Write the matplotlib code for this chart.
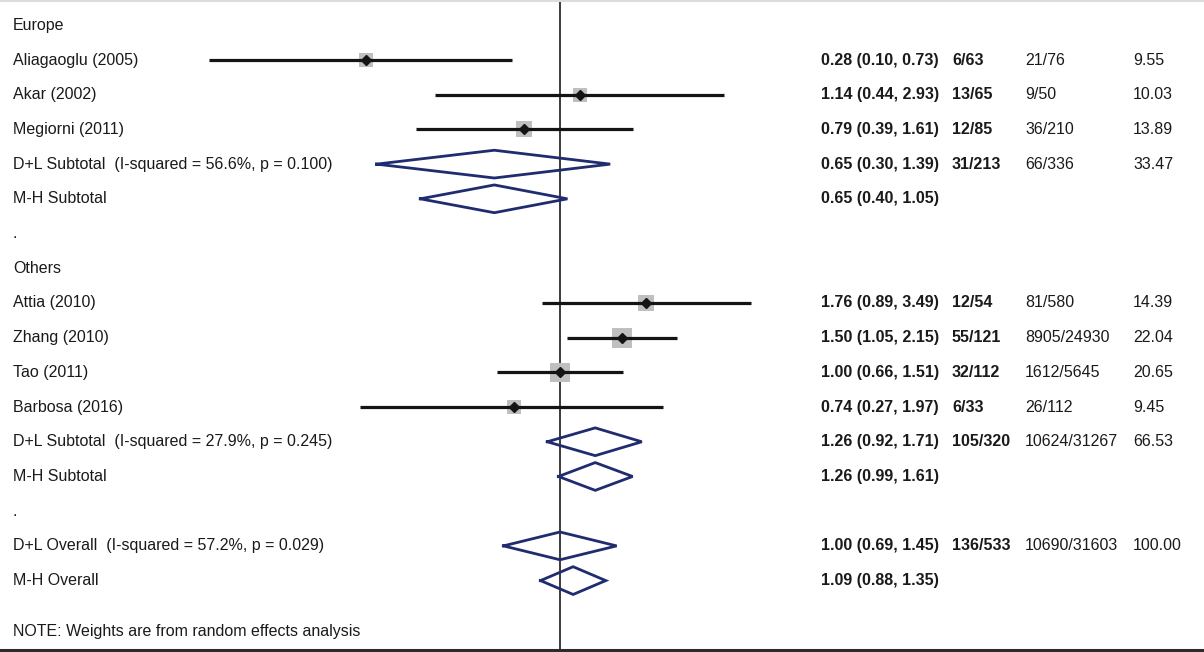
import numpy as np
import matplotlib.pyplot as plt
from matplotlib.transforms import blended_transform_factory

# ---- data ----
study_names = ["Aliagaoglu (2005)", "Akar (2002)", "Megiorni (2011)",
               "Attia (2010)", "Zhang (2010)", "Tao (2011)", "Barbosa (2016)"]
study_rows = [1, 2, 3, 8, 9, 10, 11]
study_es = [0.28, 1.14, 0.79, 1.76, 1.50, 1.00, 0.74]
study_lo = [0.10, 0.44, 0.39, 0.89, 1.05, 0.66, 0.27]
study_hi = [0.73, 2.93, 1.61, 3.49, 2.15, 1.51, 1.97]
study_case = ["6/63", "13/65", "12/85", "12/54", "55/121", "32/112", "6/33"]
study_ctrl = ["21/76", "9/50", "36/210", "81/580", "8905/24930", "1612/5645", "26/112"]
study_wt = [9.55, 10.03, 13.89, 14.39, 22.04, 20.65, 9.45]

pool_names = ["D+L Subtotal  (I-squared = 56.6%, p = 0.100)", "M-H Subtotal",
              "D+L Subtotal  (I-squared = 27.9%, p = 0.245)", "M-H Subtotal",
              "D+L Overall  (I-squared = 57.2%, p = 0.029)", "M-H Overall"]
pool_rows = [4, 5, 12, 13, 15, 16]
pool_es = [0.65, 0.65, 1.26, 1.26, 1.00, 1.09]
pool_lo = [0.30, 0.40, 0.92, 0.99, 0.69, 0.88]
pool_hi = [1.39, 1.05, 1.71, 1.61, 1.45, 1.35]
pool_case = ["31/213", "", "105/320", "", "136/533", ""]
pool_ctrl = ["66/336", "", "10624/31267", "", "10690/31603", ""]
pool_wt = ["33.47", "", "66.53", "", "100.00", ""]

headers = ["Europe", "Others"]
header_rows = [0, 7]
dot_rows = [6, 14]
note = "NOTE: Weights are from random effects analysis"

plt.rcParams['font.family'] = ['Liberation Sans', 'DejaVu Sans']
txt_col = "#1a1a1a"
navy = "#1f2c6f"
fs = 11.5

fig = plt.figure(figsize=(12.04, 6.52), dpi=100)
ax = fig.add_axes([0, 2 / 652, 1, 650 / 652])

# x: log scale, 351 px per decade, null line at px 560
lo_lim = 10 ** ((0 - 560) / 351)
hi_lim = 10 ** ((1204 - 560) / 351)
ax.set_xscale('log')
ax.set_xlim(lo_lim, hi_lim)
ax.set_ylim(18.0, -0.729)

# null line
ax.axvline(1, color="#2b2b2b", lw=1.3, zorder=1)

# studies
for r, es, lo, hi, w in zip(study_rows, study_es, study_lo, study_hi, study_wt):
    side = 4.3 * np.sqrt(w) * 0.72
    ax.scatter([es], [r], marker='s', s=side ** 2, color="#bfbfbf",
               edgecolors='none', zorder=2)
    ax.plot([lo, hi], [r, r], color="#141414", lw=2.3, solid_capstyle='butt', zorder=3)
    ax.plot([es], [r], marker='D', ms=5.5, color="#141414", zorder=4)

# pooled diamonds
h = 0.4
for r, es, lo, hi in zip(pool_rows, pool_es, pool_lo, pool_hi):
    ax.plot([lo, es, hi, es, lo], [r, r - h, r, r + h, r], color=navy, lw=2.0,
            solid_joinstyle='miter', zorder=3)

# text columns
tr = blended_transform_factory(ax.transAxes, ax.transData)
xl = 13 / 1204
x_es, x_case, x_ctrl, x_wt = 821 / 1204, 952 / 1204, 1025 / 1204, 1133 / 1204

for r, t in zip(header_rows, headers):
    ax.text(xl, r, t, transform=tr, va='center', fontsize=fs, color=txt_col)
for r in dot_rows:
    ax.text(xl, r, ".", transform=tr, va='center', fontsize=fs, color=txt_col)

for name, r, es, lo, hi, c1, c2, w in zip(study_names, study_rows, study_es, study_lo,
                                          study_hi, study_case, study_ctrl, study_wt):
    ax.text(xl, r, name, transform=tr, va='center', fontsize=fs, color=txt_col)
    ax.text(x_es, r, f"{es:.2f} ({lo:.2f}, {hi:.2f})", transform=tr, va='center',
            fontsize=fs, color=txt_col, fontweight='bold')
    ax.text(x_case, r, c1, transform=tr, va='center', fontsize=fs, color=txt_col,
            fontweight='bold')
    ax.text(x_ctrl, r, c2, transform=tr, va='center', fontsize=fs, color=txt_col)
    ax.text(x_wt, r, f"{w:.2f}", transform=tr, va='center', fontsize=fs, color=txt_col)

for name, r, es, lo, hi, c1, c2, w in zip(pool_names, pool_rows, pool_es, pool_lo,
                                          pool_hi, pool_case, pool_ctrl, pool_wt):
    ax.text(xl, r, name, transform=tr, va='center', fontsize=fs, color=txt_col)
    ax.text(x_es, r, f"{es:.2f} ({lo:.2f}, {hi:.2f})", transform=tr, va='center',
            fontsize=fs, color=txt_col, fontweight='bold')
    ax.text(x_case, r, c1, transform=tr, va='center', fontsize=fs, color=txt_col,
            fontweight='bold')
    ax.text(x_ctrl, r, c2, transform=tr, va='center', fontsize=fs, color=txt_col)
    ax.text(x_wt, r, w, transform=tr, va='center', fontsize=fs, color=txt_col)

ax.text(xl, 17.47, note, transform=tr, va='center', fontsize=fs, color=txt_col)

# axes styling: only the bottom axis line
for s in ['top', 'left', 'right']:
    ax.spines[s].set_visible(False)
ax.spines['bottom'].set_linewidth(2.2)
ax.spines['bottom'].set_color("#2b2b2b")
ax.set_yticks([])
ax.set_xticks([0.1, 1, 5])
ax.set_xticklabels([])
ax.xaxis.set_minor_locator(plt.NullLocator())
ax.tick_params(axis='x', direction='out', length=4, width=1.5, color="#2b2b2b")

# faint frame line at the very top
fig.add_artist(plt.Line2D([0, 1], [0.998, 0.998], color="#dcdcdc", lw=1.5,
                          transform=fig.transFigure))

fig.savefig("out.png", dpi=100, facecolor='white')
